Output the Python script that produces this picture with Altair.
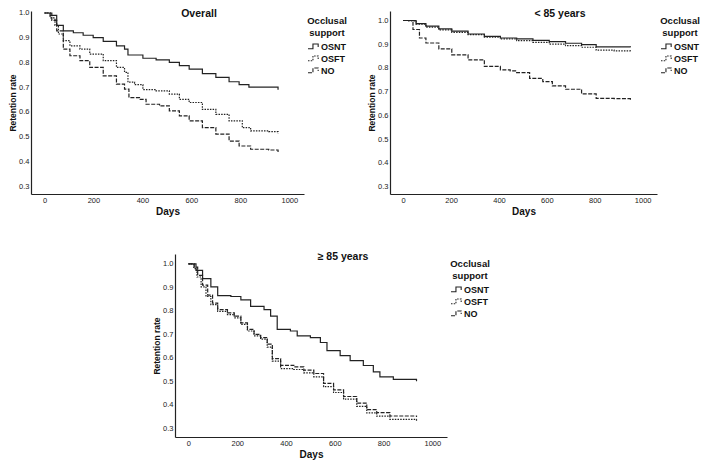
import altair as alt
import pandas as pd

GROUPS = ["OSNT", "OSFT", "NO"]

# ---- Overall ----
OVR_OSNT_DAYS = [0, 23, 50, 77, 118, 158, 199, 240, 294, 327, 341, 375, 402, 456, 510, 551, 591, 645, 700, 754, 795, 835, 916, 954]
OVR_OSNT_RATE = [1.0, 0.99, 0.95, 0.928, 0.92, 0.91, 0.90, 0.885, 0.867, 0.854, 0.83, 0.83, 0.817, 0.81, 0.80, 0.787, 0.773, 0.755, 0.74, 0.722, 0.71, 0.70, 0.70, 0.69]
OVR_OSFT_DAYS = [0, 23, 43, 57, 77, 104, 145, 185, 240, 294, 327, 341, 368, 402, 456, 510, 551, 591, 645, 700, 754, 808, 842, 916, 954]
OVR_OSFT_RATE = [1.0, 0.98, 0.95, 0.915, 0.888, 0.867, 0.854, 0.834, 0.807, 0.78, 0.76, 0.72, 0.71, 0.69, 0.685, 0.672, 0.651, 0.638, 0.61, 0.59, 0.564, 0.536, 0.523, 0.52, 0.514]
OVR_NO_DAYS = [0, 30, 50, 77, 104, 145, 185, 240, 294, 327, 345, 388, 415, 470, 510, 551, 591, 645, 700, 754, 795, 842, 916, 954]
OVR_NO_RATE = [1.0, 0.97, 0.928, 0.854, 0.827, 0.807, 0.78, 0.746, 0.712, 0.692, 0.658, 0.651, 0.631, 0.624, 0.604, 0.584, 0.564, 0.536, 0.51, 0.482, 0.462, 0.449, 0.446, 0.435]

# ---- < 85 years ----
Y_OSNT_DAYS = [0, 20, 54, 95, 149, 203, 271, 339, 406, 474, 542, 610, 678, 745, 806, 881, 949]
Y_OSNT_RATE = [1.0, 1.0, 0.987, 0.976, 0.965, 0.955, 0.943, 0.933, 0.926, 0.922, 0.916, 0.911, 0.904, 0.898, 0.889, 0.889, 0.887]
Y_OSFT_DAYS = [0, 20, 54, 95, 149, 203, 271, 339, 406, 474, 542, 610, 678, 745, 806, 881, 949]
Y_OSFT_RATE = [1.0, 0.998, 0.985, 0.972, 0.96, 0.95, 0.94, 0.93, 0.922, 0.915, 0.908, 0.90, 0.894, 0.887, 0.875, 0.872, 0.867]
Y_NO_DAYS = [0, 20, 41, 68, 95, 149, 203, 271, 339, 406, 447, 474, 528, 583, 623, 678, 745, 806, 881, 949]
Y_NO_RATE = [1.0, 1.0, 0.962, 0.926, 0.905, 0.88, 0.855, 0.834, 0.806, 0.792, 0.787, 0.78, 0.756, 0.742, 0.724, 0.71, 0.69, 0.671, 0.67, 0.661]

# ---- >= 85 years ----
O_OSNT_DAYS = [0, 18, 31, 58, 92, 120, 174, 215, 255, 310, 337, 364, 418, 446, 500, 541, 568, 622, 663, 717, 758, 785, 840, 935]
O_OSNT_RATE = [1.0, 1.0, 0.972, 0.937, 0.902, 0.865, 0.861, 0.847, 0.819, 0.805, 0.777, 0.721, 0.714, 0.693, 0.686, 0.665, 0.63, 0.609, 0.588, 0.567, 0.54, 0.519, 0.508, 0.50]
O_OSFT_DAYS = [0, 22, 35, 52, 72, 92, 120, 160, 188, 215, 242, 269, 296, 323, 344, 378, 432, 473, 514, 554, 595, 636, 690, 731, 772, 826, 935]
O_OSFT_RATE = [1.0, 0.98, 0.944, 0.902, 0.861, 0.826, 0.798, 0.784, 0.77, 0.742, 0.714, 0.693, 0.679, 0.645, 0.586, 0.554, 0.55, 0.536, 0.519, 0.477, 0.452, 0.424, 0.393, 0.365, 0.351, 0.338, 0.331]
O_NO_DAYS = [0, 24, 38, 58, 79, 99, 120, 160, 188, 215, 242, 269, 296, 323, 344, 378, 432, 473, 514, 554, 595, 636, 690, 731, 772, 826, 935]
O_NO_RATE = [1.0, 0.986, 0.951, 0.909, 0.867, 0.833, 0.805, 0.791, 0.777, 0.749, 0.721, 0.70, 0.686, 0.658, 0.596, 0.568, 0.561, 0.547, 0.533, 0.491, 0.463, 0.435, 0.407, 0.379, 0.366, 0.352, 0.348]

X_TICKS = [0, 200, 400, 600, 800, 1000]
Y_TICKS = [0.3, 0.4, 0.5, 0.6, 0.7, 0.8, 0.9, 1.0]

FONT = "Liberation Sans"
STEP_PATH = "M-1,0.4L-0.1,0.4L-0.1,-0.45L0.85,-0.45L0.85,0.1"


def make_df(series):
    rows = []
    for g, days, rates in series:
        for d, r in zip(days, rates):
            rows.append({"Days": d, "Rate": r, "Group": g})
    return pd.DataFrame(rows)


def panel(df, title, ydom, w, h, title_x):
    lines = alt.Chart(df).mark_line(
        interpolate="step-after", color="#222", strokeWidth=1.2
    ).encode(
        x=alt.X("Days:Q", scale=alt.Scale(domain=[-55, 1060], nice=False, zero=False),
                axis=alt.Axis(values=X_TICKS, format="d", title="Days", ticks=False, grid=False,
                              labelPadding=2, titlePadding=3)),
        y=alt.Y("Rate:Q", scale=alt.Scale(domain=ydom, nice=False, zero=False),
                axis=alt.Axis(values=Y_TICKS, format=".1f", title="Retention rate",
                              ticks=False, grid=False, labelPadding=2, titlePadding=1)),
        strokeDash=alt.StrokeDash(
            "Group:N",
            scale=alt.Scale(domain=GROUPS, range=[[1, 0], [1.5, 1.2], [4, 1.5]]),
            legend=alt.Legend(title=["Occlusal", "support"], orient="none",
                              legendX=w + 3, legendY=5,
                              symbolType=STEP_PATH, symbolSize=121,
                              symbolStrokeColor="#222", symbolFillColor="transparent",
                              symbolStrokeWidth=1.1, titleAlign="center", titleAnchor="middle"),
        ),
        detail="Group:N",
    )
    label = alt.Chart(pd.DataFrame({"t": [title]})).mark_text(
        font=FONT, fontSize=10.5, fontWeight="bold", color="#111", align="center", baseline="top"
    ).encode(x=alt.value(title_x), y=alt.value(-2), text="t:N")
    return alt.layer(lines, label).properties(width=w, height=h)


p1 = panel(make_df([("OSNT", OVR_OSNT_DAYS, OVR_OSNT_RATE),
                    ("OSFT", OVR_OSFT_DAYS, OVR_OSFT_RATE),
                    ("NO", OVR_NO_DAYS, OVR_NO_RATE)]), "Overall", [0.268, 1.008], 273, 183, 168)
p2 = panel(make_df([("OSNT", Y_OSNT_DAYS, Y_OSNT_RATE),
                    ("OSFT", Y_OSFT_DAYS, Y_OSFT_RATE),
                    ("NO", Y_NO_DAYS, Y_NO_RATE)]), "< 85 years", [0.268, 1.04], 267, 183, 170)
p3 = panel(make_df([("OSNT", O_OSNT_DAYS, O_OSNT_RATE),
                    ("OSFT", O_OSFT_DAYS, O_OSFT_RATE),
                    ("NO", O_NO_DAYS, O_NO_RATE)]), "≥ 85 years", [0.2625, 1.042], 272, 183, 168)

spacer = alt.Chart(pd.DataFrame({"a": [0]})).mark_point(opacity=0).properties(width=121, height=10)

top = alt.hconcat(p1, p2, spacing=20).resolve_scale(strokeDash="independent")
bottom = alt.hconcat(spacer, p3, spacing=0).resolve_scale(strokeDash="independent")

chart = alt.vconcat(top, bottom, spacing=35).properties(
    padding={"left": 0, "top": 0, "right": 0, "bottom": 0}
).configure_view(
    stroke=None
).configure_axis(
    domainColor="#222", domainWidth=1.2, labelFont=FONT, labelFontSize=7.5, labelColor="#222",
    titleFont=FONT, titleFontSize=8.5, titleFontWeight="bold", titleColor="#111"
).configure_axisX(
    titleFontSize=10
).configure_legend(
    titleFont=FONT, titleFontSize=9.5, titleFontWeight="bold", titleColor="#111",
    labelFont=FONT, labelFontSize=9, labelFontWeight="bold", labelColor="#111",
    rowPadding=0, titlePadding=3, symbolOffset=0, labelOffset=1, padding=0
)

chart.save("out.html", embed_options={"renderer": "svg", "actions": False})
